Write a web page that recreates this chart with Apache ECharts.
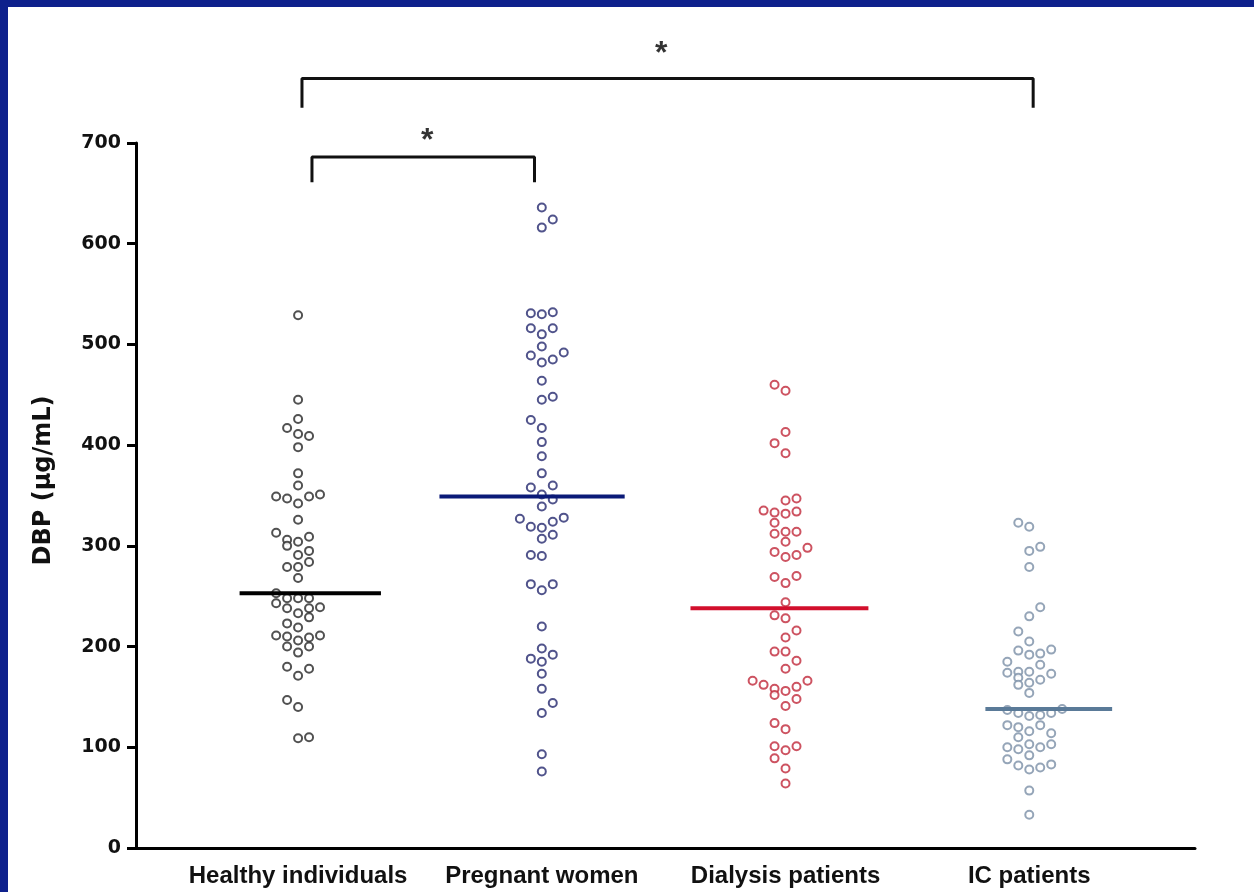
<!DOCTYPE html>
<html>
<head>
<meta charset="utf-8">
<script src="https://cdn.jsdelivr.net/npm/echarts@6/dist/echarts.min.js"></script>
<style>
  html, body { margin: 0; padding: 0; background: #fff; }
  #chart { width: 1254px; height: 892px; }
</style>
</head>
<body>
<div id="chart"></div>
<script>
// groups on the x axis
const categories = ['Healthy individuals', 'Pregnant women', 'Dialysis patients', 'IC patients']
const yTicks = [0, 100, 200, 300, 400, 500, 600, 700]

// DBP values (µg/mL)
const healthy = [529, 445, 426, 417, 411, 409, 398, 372, 360, 349, 347, 342, 349, 351, 326, 313, 306, 300, 304, 309, 291, 295, 279, 279, 284, 268, 253, 248, 248, 248, 243, 238, 233, 238, 229, 239, 223, 219, 211, 210, 206, 209, 211, 200, 194, 200, 180, 171, 178, 147, 140, 109, 110]
const pregnant = [636, 624, 616, 531, 530, 532, 516, 510, 516, 498, 489, 482, 485, 492, 464, 445, 448, 425, 417, 403, 389, 372, 358, 360, 351, 346, 339, 327, 319, 318, 324, 328, 307, 311, 291, 290, 262, 256, 262, 220, 198, 192, 188, 185, 173, 158, 144, 134, 93, 76]
const dialysis = [460, 454, 413, 402, 392, 345, 347, 335, 333, 332, 334, 323, 312, 314, 314, 304, 294, 289, 291, 298, 269, 263, 270, 244, 231, 228, 216, 209, 195, 195, 186, 178, 166, 162, 158, 156, 160, 166, 152, 148, 141, 124, 118, 101, 97, 101, 89, 79, 64]
const icPatients = [323, 319, 295, 299, 279, 239, 230, 215, 205, 196, 192, 193, 197, 185, 182, 174, 175, 175, 173, 169, 164, 167, 162, 154, 137, 134, 131, 132, 134, 138, 122, 120, 122, 116, 110, 114, 100, 98, 103, 92, 100, 103, 88, 82, 78, 80, 83, 57, 33]
const medians = [253, 349, 238, 138]

// scatter column of each point (dot plot spreading)
const healthyCol = [0, 0, 0, -1, 0, 1, 0, 0, 0, -2, -1, 0, 1, 2, 0, -2, -1, -1, 0, 1, 0, 1, -1, 0, 1, 0, -2, -1, 0, 1, -2, -1, 0, 1, 1, 2, -1, 0, -2, -1, 0, 1, 2, -1, 0, 1, -1, 0, 1, -1, 0, 0, 1]
const pregnantCol = [0, 1, 0, -1, 0, 1, -1, 0, 1, 0, -1, 0, 1, 2, 0, 0, 1, -1, 0, 0, 0, 0, -1, 1, 0, 1, 0, -2, -1, 0, 1, 2, 0, 1, -1, 0, -1, 0, 1, 0, 0, 1, -1, 0, 0, 0, 1, 0, 0, 0]
const dialysisCol = [-1, 0, 0, -1, 0, 0, 1, -2, -1, 0, 1, -1, -1, 0, 1, 0, -1, 0, 1, 2, -1, 0, 1, 0, -1, 0, 1, 0, -1, 0, 1, 0, -3, -2, -1, 0, 1, 2, -1, 1, 0, -1, 0, -1, 0, 1, -1, 0, 0]
const icCol = [-1, 0, 0, 1, 0, 1, 0, -1, 0, -1, 0, 1, 2, -2, 1, -2, -1, 0, 2, -1, 0, 1, -1, 0, -2, -1, 0, 1, 2, 3, -2, -1, 1, 0, -1, 2, -2, -1, 0, 0, 1, 2, -2, -1, 0, 1, 2, 0, 0]

const groups = [healthy, pregnant, dialysis, icPatients]
const cols = [healthyCol, pregnantCol, dialysisCol, icCol]
const dotColors = ['#262626', '#24286e', '#c0283a', '#7a8ea6']
const lineColors = ['#000000', '#0b1a78', '#d20f2c', '#5a7a98']
const medianSpan = [[-0.24, 0.34], [-0.42, 0.34], [-0.39, 0.34], [-0.18, 0.34]]
const colStep = 0.045

const series = []
groups.forEach(function (vals, g) {
  series.push({
    type: 'scatter',
    symbol: 'circle',
    symbolSize: 8,
    itemStyle: { color: '#fff', borderColor: dotColors[g], borderWidth: 2 },
    data: vals.map(function (v, i) { return [g + 1 + cols[g][i] * colStep, v] }),
    z: 3
  })
  series.push({
    type: 'line',
    symbol: 'none',
    lineStyle: { color: lineColors[g], width: 4 },
    data: [[g + 1 + medianSpan[g][0], medians[g]], [g + 1 + medianSpan[g][1], medians[g]]],
    z: 4
  })
})

// significance brackets, drawn above the plot area
const bracketStyle = { color: '#111', width: 3 }
series.push({
  type: 'line', symbol: 'none', clip: false, lineStyle: bracketStyle,
  data: [[1.057, 661], [1.057, 686], [1.97, 686], [1.97, 661]]
})
series.push({
  type: 'line', symbol: 'none', clip: false, lineStyle: bracketStyle,
  data: [[1.016, 735], [1.016, 764], [4.016, 764], [4.016, 735]]
})
series.push({
  type: 'scatter', symbolSize: 0, clip: false,
  label: { show: true, position: 'inside', formatter: '*', color: '#000', fontSize: 32, fontWeight: 'bold', fontFamily: 'Liberation Sans' },
  data: [[1.53, 702], [2.49, 788]]
})

const option = {
  backgroundColor: '#fff',
  animation: false,
  graphic: [
    { type: 'rect', shape: { x: 0, y: 0, width: 1254, height: 7 }, style: { fill: '#0e218c' }, z: 100 },
    { type: 'rect', shape: { x: 0, y: 0, width: 8, height: 892 }, style: { fill: '#0e218c' }, z: 100 }
  ],
  grid: { left: 136, right: 59, top: 143, bottom: 44 },
  xAxis: {
    type: 'value',
    min: 0.335,
    max: 4.68,
    splitLine: { show: false },
    axisLine: { show: true, onZero: false, lineStyle: { color: '#000', width: 3 } },
    axisTick: { show: false },
    axisLabel: {
      customValues: [1, 2, 3, 4],
      formatter: function (v) { return categories[Math.round(v) - 1] },
      margin: 16,
      color: '#111',
      fontSize: 24,
      fontWeight: 'bold',
      fontFamily: 'Liberation Sans'
    }
  },
  yAxis: {
    type: 'value',
    min: yTicks[0],
    max: yTicks[yTicks.length - 1],
    interval: 100,
    name: 'DBP (µg/mL)',
    nameLocation: 'middle',
    nameGap: 80,
    nameTextStyle: { color: '#111', fontSize: 24, fontWeight: 'bold', fontFamily: 'DejaVu Sans', padding: [0, 0, 0, 30] },
    splitLine: { show: false },
    axisLine: { show: true, lineStyle: { color: '#000', width: 3 } },
    axisTick: { show: true, length: 9, lineStyle: { color: '#000', width: 3 } },
    axisLabel: { margin: 15, color: '#111', fontSize: 19, fontWeight: 'bold', fontFamily: 'DejaVu Sans' }
  },
  series: series
}

const myChart = echarts.init(document.getElementById('chart'))
myChart.setOption(option)
</script>
</body>
</html>
